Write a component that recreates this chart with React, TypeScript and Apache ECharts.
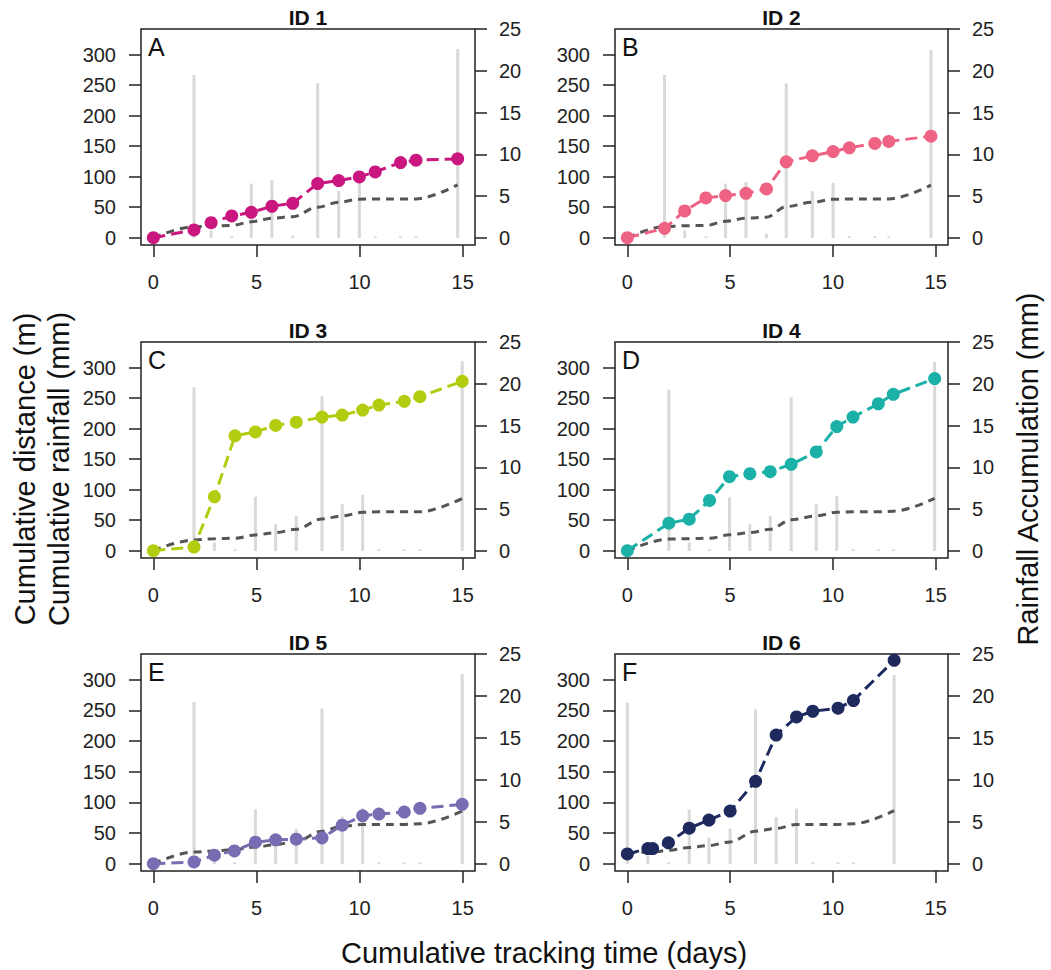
import React, { useEffect, useRef } from "react";
import * as echarts from "echarts";

// ---------- Data ----------
const ids = ["ID 1", "ID 2", "ID 3", "ID 4", "ID 5", "ID 6"];
const letters = ["A", "B", "C", "D", "E", "F"];
const colors = ["#C9177F", "#EE6383", "#B4CC10", "#1BB0A8", "#776DB2", "#1E2A5E"];

const xTicks = [0, 5, 10, 15];
const leftTicks = [0, 50, 100, 150, 200, 250, 300];
const rightTicks = [0, 5, 10, 15, 20, 25];

// tracking times (days)
const time1 = [0, 1.97, 2.8, 3.8, 4.75, 5.75, 6.76, 7.97, 8.99, 9.99, 10.76, 11.99, 12.74, 14.76];
const time2 = [0, 1.81, 2.79, 3.82, 4.78, 5.77, 6.77, 7.73, 9.0, 10.01, 10.8, 12.04, 12.72, 14.77];
const time3 = [0, 1.97, 2.96, 3.96, 4.95, 5.93, 6.93, 8.18, 9.16, 10.15, 10.94, 12.17, 12.93, 14.98];
const time4 = [0, 2.02, 3.01, 4.0, 4.97, 5.96, 6.95, 7.97, 9.19, 10.19, 10.98, 12.21, 12.94, 14.95];
const time5 = [0, 1.97, 2.96, 3.93, 4.95, 5.93, 6.93, 8.18, 9.16, 10.15, 10.94, 12.17, 12.93, 14.98];
const time6 = [0, 1.0, 1.23, 2.0, 3.01, 3.97, 5.0, 6.24, 7.24, 8.23, 9.02, 10.25, 11.0, 12.98];

// cumulative distance (m)
const dist1 = [0, 12.6, 24.6, 35.6, 41.6, 51.5, 56.4, 88.7, 93.6, 99.6, 107.8, 123.2, 127, 129.2];
const dist2 = [0, 15.3, 43.8, 65.1, 69, 72.8, 79.9, 124.3, 134.1, 141.2, 147.3, 154.4, 157.7, 166.4];
const dist3 = [0, 6, 88.3, 188.2, 194.7, 205.2, 210.6, 218.9, 222.2, 230.4, 238.6, 244.7, 252.3, 277.6];
const dist4 = [0, 45, 51.6, 82.3, 121.2, 126.2, 129.5, 141.5, 161.8, 203.5, 218.9, 240.8, 256.2, 282];
const dist5 = [0, 2.7, 13.7, 20.8, 35, 38.8, 39.9, 42.1, 62.8, 78.1, 80.9, 84.2, 90.2, 96.7];
const dist6 = [15.8, 24.6, 24.6, 33.9, 57.9, 71, 85.8, 134.4, 209.8, 239.3, 248.6, 253.6, 266.1, 331.7];

// rainfall accumulation per interval (mm)
const rain1 = [0, 19.5, 0.9, 0.2, 6.5, 6.9, 0.3, 18.5, 5.6, 6.6, 0.2, 0.2, 0.2, 22.6];
const rain2 = [0, 19.5, 0.9, 0.2, 6.5, 6.7, 0.5, 18.5, 5.6, 6.6, 0.2, 0.2, 0.2, 22.5];
const rain3 = [0, 19.6, 1.0, 0.2, 6.5, 3.2, 4.2, 18.5, 5.6, 6.7, 0.2, 0.2, 0.2, 22.7];
const rain4 = [0, 19.3, 1.0, 0.2, 6.4, 3.2, 4.2, 18.4, 5.6, 6.6, 0.2, 0.2, 0.2, 22.6];
const rain5 = [0, 19.3, 1.0, 0.2, 6.5, 3.2, 4.2, 18.5, 5.65, 6.7, 0.2, 0.2, 0.2, 22.6];
const rain6 = [19.2, 1.0, 0, 0.2, 6.5, 3.15, 4.2, 18.4, 5.6, 6.6, 0.2, 0.2, 0.2, 22.5];

// cumulative rainfall (mm)
const cum1 = [0, 18, 19, 20, 26, 32, 34.5, 50, 58, 63, 63.5, 63.5, 63.5, 86.5];
const cum2 = [0, 18, 19.7, 20, 27, 32, 33.5, 51, 58, 63, 63.5, 63.5, 63.5, 86];
const cum3 = [0, 17.6, 19.7, 20.3, 25.8, 29.6, 35.1, 52.1, 57, 63, 63.6, 63.6, 63.6, 85.6];
const cum4 = [0, 19, 19.7, 20.3, 26, 29.6, 35, 50.5, 57, 63, 63.6, 63.6, 64.7, 85.6];
const cum5 = [0, 19, 20.8, 23, 27, 31, 36.6, 53, 61, 64, 64, 64, 65, 85.8];
const cum6 = [18, 18.6, 18.8, 21.9, 26.2, 29.5, 35.5, 53, 57.4, 64, 64, 64, 65, 86.5];

const times = [time1, time2, time3, time4, time5, time6];
const dists = [dist1, dist2, dist3, dist4, dist5, dist6];
const rains = [rain1, rain2, rain3, rain4, rain5, rain6];
const cums = [cum1, cum2, cum3, cum4, cum5, cum6];

// ---------- Layout ----------
const FONT = '"Liberation Sans", Arial, Helvetica, sans-serif';
const grids = [
  { left: 141, top: 29, width: 334, height: 216 },
  { left: 615, top: 29, width: 333, height: 216 },
  { left: 141, top: 342, width: 334, height: 216 },
  { left: 615, top: 342, width: 333, height: 216 },
  { left: 141, top: 654, width: 334, height: 217 },
  { left: 615, top: 654, width: 333, height: 217 },
];

function buildOption() {
  const tickStyle = { show: true, inside: false, length: 12, lineStyle: { color: "#222", width: 1.5 } };
  const labelBase = { fontSize: 20, color: "#222", fontFamily: FONT };

  const xAxis = grids.map((_, i) => ({
    type: "value",
    gridIndex: i,
    min: -0.6,
    max: 15.6,
    position: "bottom",
    splitLine: { show: false },
    axisLine: { show: false, onZero: false },
    axisTick: { ...tickStyle, customValues: xTicks },
    axisLabel: { ...labelBase, margin: 27, customValues: xTicks },
  }));

  const yAxis: any[] = [];
  grids.forEach((_, i) => {
    yAxis.push({
      type: "value",
      gridIndex: i,
      position: "left",
      min: -12,
      max: 342,
      splitLine: { show: false },
      axisLine: { show: false, onZero: false },
      axisTick: { ...tickStyle, customValues: leftTicks },
      axisLabel: { ...labelBase, margin: 25, customValues: leftTicks },
    });
    yAxis.push({
      type: "value",
      gridIndex: i,
      position: "right",
      min: -0.84,
      max: 25,
      splitLine: { show: false },
      axisLine: { show: false, onZero: false },
      axisTick: { ...tickStyle, customValues: rightTicks },
      axisLabel: { ...labelBase, margin: 24, customValues: rightTicks },
    });
  });

  const series: any[] = [];
  grids.forEach((_, i) => {
    const t = times[i];
    series.push({
      type: "bar",
      xAxisIndex: i,
      yAxisIndex: 2 * i + 1,
      barWidth: 3,
      data: t.map((x, k) => [x, rains[i][k]]),
      itemStyle: { color: "#d9d9d9" },
      z: 1,
      silent: true,
    });
    series.push({
      type: "line",
      xAxisIndex: i,
      yAxisIndex: 2 * i,
      data: t.map((x, k) => [x, cums[i][k]]),
      smooth: 0.35,
      smoothMonotone: "x",
      symbol: "none",
      lineStyle: { color: "#555555", width: 3, type: [8, 6] },
      z: 2,
      silent: true,
    });
    series.push({
      type: "line",
      xAxisIndex: i,
      yAxisIndex: 2 * i,
      data: t.map((x, k) => [x, dists[i][k]]),
      symbol: "circle",
      symbolSize: 13,
      itemStyle: { color: colors[i] },
      lineStyle: { color: colors[i], width: 3, type: [12, 6] },
      z: 3,
      silent: true,
    });
  });

  const graphic: any[] = [];
  grids.forEach((g, i) => {
    graphic.push({
      type: "text",
      x: g.left + g.width / 2,
      y: g.top - 12,
      style: {
        text: ids[i],
        font: `bold 21px ${FONT}`,
        textAlign: "center",
        textVerticalAlign: "middle",
        fill: "#111",
      },
    });
    graphic.push({
      type: "text",
      x: g.left + 7,
      y: g.top + 18,
      style: {
        text: letters[i],
        font: `25px ${FONT}`,
        textAlign: "left",
        textVerticalAlign: "middle",
        fill: "#111",
      },
    });
  });
  const titleFont = `29px ${FONT}`;
  graphic.push({
    type: "text",
    x: 25,
    y: 469,
    rotation: Math.PI / 2,
    style: { text: "Cumulative distance (m)", font: titleFont, textAlign: "center", textVerticalAlign: "middle", fill: "#111" },
  });
  graphic.push({
    type: "text",
    x: 59,
    y: 469,
    rotation: Math.PI / 2,
    style: { text: "Cumulative rainfall (mm)", font: titleFont, textAlign: "center", textVerticalAlign: "middle", fill: "#111" },
  });
  graphic.push({
    type: "text",
    x: 1028,
    y: 469,
    rotation: Math.PI / 2,
    style: { text: "Rainfall Accumulation (mm)", font: titleFont, textAlign: "center", textVerticalAlign: "middle", fill: "#111" },
  });
  graphic.push({
    type: "text",
    x: 544,
    y: 953,
    style: { text: "Cumulative tracking time (days)", font: titleFont, textAlign: "center", textVerticalAlign: "middle", fill: "#111" },
  });

  return {
    animation: false,
    backgroundColor: "#ffffff",
    grid: grids.map((g) => ({ ...g, show: true, borderColor: "#222", borderWidth: 1.5, backgroundColor: "transparent", containLabel: false })),
    xAxis,
    yAxis,
    series,
    graphic,
  };
}

export default function App() {
  const ref = useRef<HTMLDivElement>(null);
  useEffect(() => {
    if (!ref.current) return;
    const chart = echarts.init(ref.current, undefined, { renderer: "svg" });
    chart.setOption(buildOption() as any);
    return () => chart.dispose();
  }, []);
  return <div ref={ref} style={{ position: "absolute", left: 0, top: 0, width: 1051, height: 970 }} />;
}
